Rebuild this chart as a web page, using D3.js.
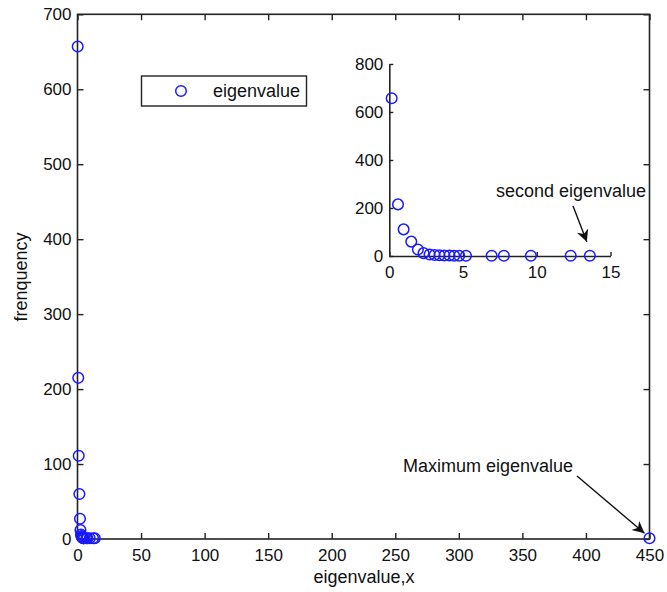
<!DOCTYPE html>
<html>
<head>
<meta charset="utf-8">
<script src="https://cdn.jsdelivr.net/npm/d3@7"></script>
<style>
  body { margin: 0; background: #fff; }
  text { font-family: "Liberation Sans", Arial, sans-serif; fill: #111; }
</style>
</head>
<body>
<svg id="chart" width="667" height="592"></svg>
<script>
// eigenvalue (x) and how often it occurs
var eigenX = [0.16, 0.59, 0.97, 1.49, 1.94, 2.32, 2.73, 3.07, 3.40, 3.74, 4.08, 4.40, 4.74, 5.20, 6.94, 7.77, 9.60, 12.3, 13.6, 450];
var freqY  = [657, 215, 111, 60, 27, 12, 6, 4, 3, 2, 2, 1, 1, 1, 1, 1, 1, 1, 1, 1];

var mainXTicks = [0, 50, 100, 150, 200, 250, 300, 350, 400, 450];
var mainYTicks = [0, 100, 200, 300, 400, 500, 600, 700];
var insetXTicks = [0, 5, 10, 15];
var insetYTicks = [0, 200, 400, 600, 800];

var data = eigenX.map(function (x, i) { return { x: x, y: freqY[i] }; });

var svg = d3.select("#chart");
var blue = "#1a1aff", ink = "#222";

// main axes
var x = d3.scaleLinear().domain([0, 450]).range([77.5, 649.5]);
var y = d3.scaleLinear().domain([0, 700]).range([539, 14.3]);

var g = svg.append("g");

g.append("g").attr("class", "Xaxis")
  .attr("transform", "translate(0," + y(0) + ")")
  .call(d3.axisBottom(x).tickValues(mainXTicks).tickSizeInner(-6).tickSizeOuter(0).tickPadding(10));
g.append("g")
  .attr("transform", "translate(0," + y(700) + ")")
  .call(d3.axisTop(x).tickValues(mainXTicks).tickSizeInner(-6).tickSizeOuter(0).tickFormat(""));
g.append("g").attr("class", "Yaxis")
  .attr("transform", "translate(" + x(0) + ",0)")
  .call(d3.axisLeft(y).tickValues(mainYTicks).tickSizeInner(-6).tickSizeOuter(0).tickPadding(6));
g.append("g")
  .attr("transform", "translate(" + x(450) + ",0)")
  .call(d3.axisRight(y).tickValues(mainYTicks).tickSizeInner(-6).tickSizeOuter(0).tickFormat(""));

g.selectAll(".domain").remove();
g.selectAll(".tick line").attr("stroke", ink).attr("stroke-width", 1.4);
g.selectAll(".tick text").attr("font-size", 17).attr("fill", "#111");

g.append("rect")
  .attr("x", x(0)).attr("y", y(700))
  .attr("width", x(450) - x(0)).attr("height", y(0) - y(700))
  .attr("fill", "none").attr("stroke", ink).attr("stroke-width", 1.6);

g.append("g").selectAll("circle")
  .data(data).enter().append("circle")
  .attr("cx", function (d) { return x(d.x); })
  .attr("cy", function (d) { return y(d.y); })
  .attr("r", 5.3)
  .attr("fill", "none").attr("stroke", blue).attr("stroke-width", 1.5);

// axis titles
svg.append("text")
  .attr("x", 364).attr("y", 583)
  .attr("text-anchor", "middle").attr("font-size", 18)
  .text("eigenvalue,x");
svg.append("text")
  .attr("transform", "translate(27,277) rotate(-90)")
  .attr("text-anchor", "middle").attr("font-size", 18)
  .text("frenquency");

// legend
var legend = svg.append("g");
legend.append("rect")
  .attr("x", 141.5).attr("y", 76).attr("width", 165).attr("height", 30)
  .attr("fill", "#fff").attr("stroke", ink).attr("stroke-width", 1.4);
legend.append("circle")
  .attr("cx", 181).attr("cy", 91).attr("r", 5.3)
  .attr("fill", "none").attr("stroke", blue).attr("stroke-width", 1.5);
legend.append("text")
  .attr("x", 213).attr("y", 97).attr("font-size", 18)
  .text("eigenvalue");

// arrow marker
svg.append("defs").append("marker")
  .attr("id", "head").attr("viewBox", "0 0 10 10")
  .attr("refX", 10).attr("refY", 5)
  .attr("markerWidth", 16).attr("markerHeight", 12)
  .attr("markerUnits", "userSpaceOnUse")
  .attr("orient", "auto")
  .append("path").attr("d", "M0,0 L10,5 L0,10 L3,5 Z").attr("fill", "#111");

// maximum eigenvalue annotation
var maxPt = data[data.length - 1];
svg.append("text")
  .attr("x", 403).attr("y", 472).attr("font-size", 18)
  .text("Maximum eigenvalue");
svg.append("line")
  .attr("x1", 577).attr("y1", 476)
  .attr("x2", x(maxPt.x) - 5).attr("y2", y(maxPt.y) - 5)
  .attr("stroke", "#111").attr("stroke-width", 1.4)
  .attr("marker-end", "url(#head)");

// inset
var xi = d3.scaleLinear().domain([0, 15]).range([389.3, 610.5]);
var yi = d3.scaleLinear().domain([0, 800]).range([256, 64]);
var inset = svg.append("g");

inset.append("g")
  .attr("transform", "translate(0," + yi(0) + ")")
  .call(d3.axisBottom(xi).tickValues(insetXTicks).tickSizeInner(-4).tickSizeOuter(0).tickPadding(10));
inset.append("g")
  .attr("transform", "translate(" + xi(0) + ",0)")
  .call(d3.axisLeft(yi).tickValues(insetYTicks).tickSizeInner(-4).tickSizeOuter(0).tickPadding(6));
inset.selectAll(".domain").attr("stroke", ink).attr("stroke-width", 1.6);
inset.selectAll(".tick line").attr("stroke", ink).attr("stroke-width", 1.4);
inset.selectAll(".tick text").attr("font-size", 17).attr("fill", "#111");

inset.append("g").selectAll("circle")
  .data(data.filter(function (d) { return d.x <= 15; })).enter().append("circle")
  .attr("cx", function (d) { return xi(d.x); })
  .attr("cy", function (d) { return yi(d.y); })
  .attr("r", 5.3)
  .attr("fill", "none").attr("stroke", blue).attr("stroke-width", 1.5);

// second eigenvalue annotation
var secondPt = data[data.length - 2];
svg.append("text")
  .attr("x", 496).attr("y", 197).attr("font-size", 18)
  .text("second eigenvalue");
svg.append("line")
  .attr("x1", 573).attr("y1", 206)
  .attr("x2", xi(secondPt.x) - 3).attr("y2", yi(secondPt.y) - 14)
  .attr("stroke", "#111").attr("stroke-width", 1.4)
  .attr("marker-end", "url(#head)");
</script>
</body>
</html>
